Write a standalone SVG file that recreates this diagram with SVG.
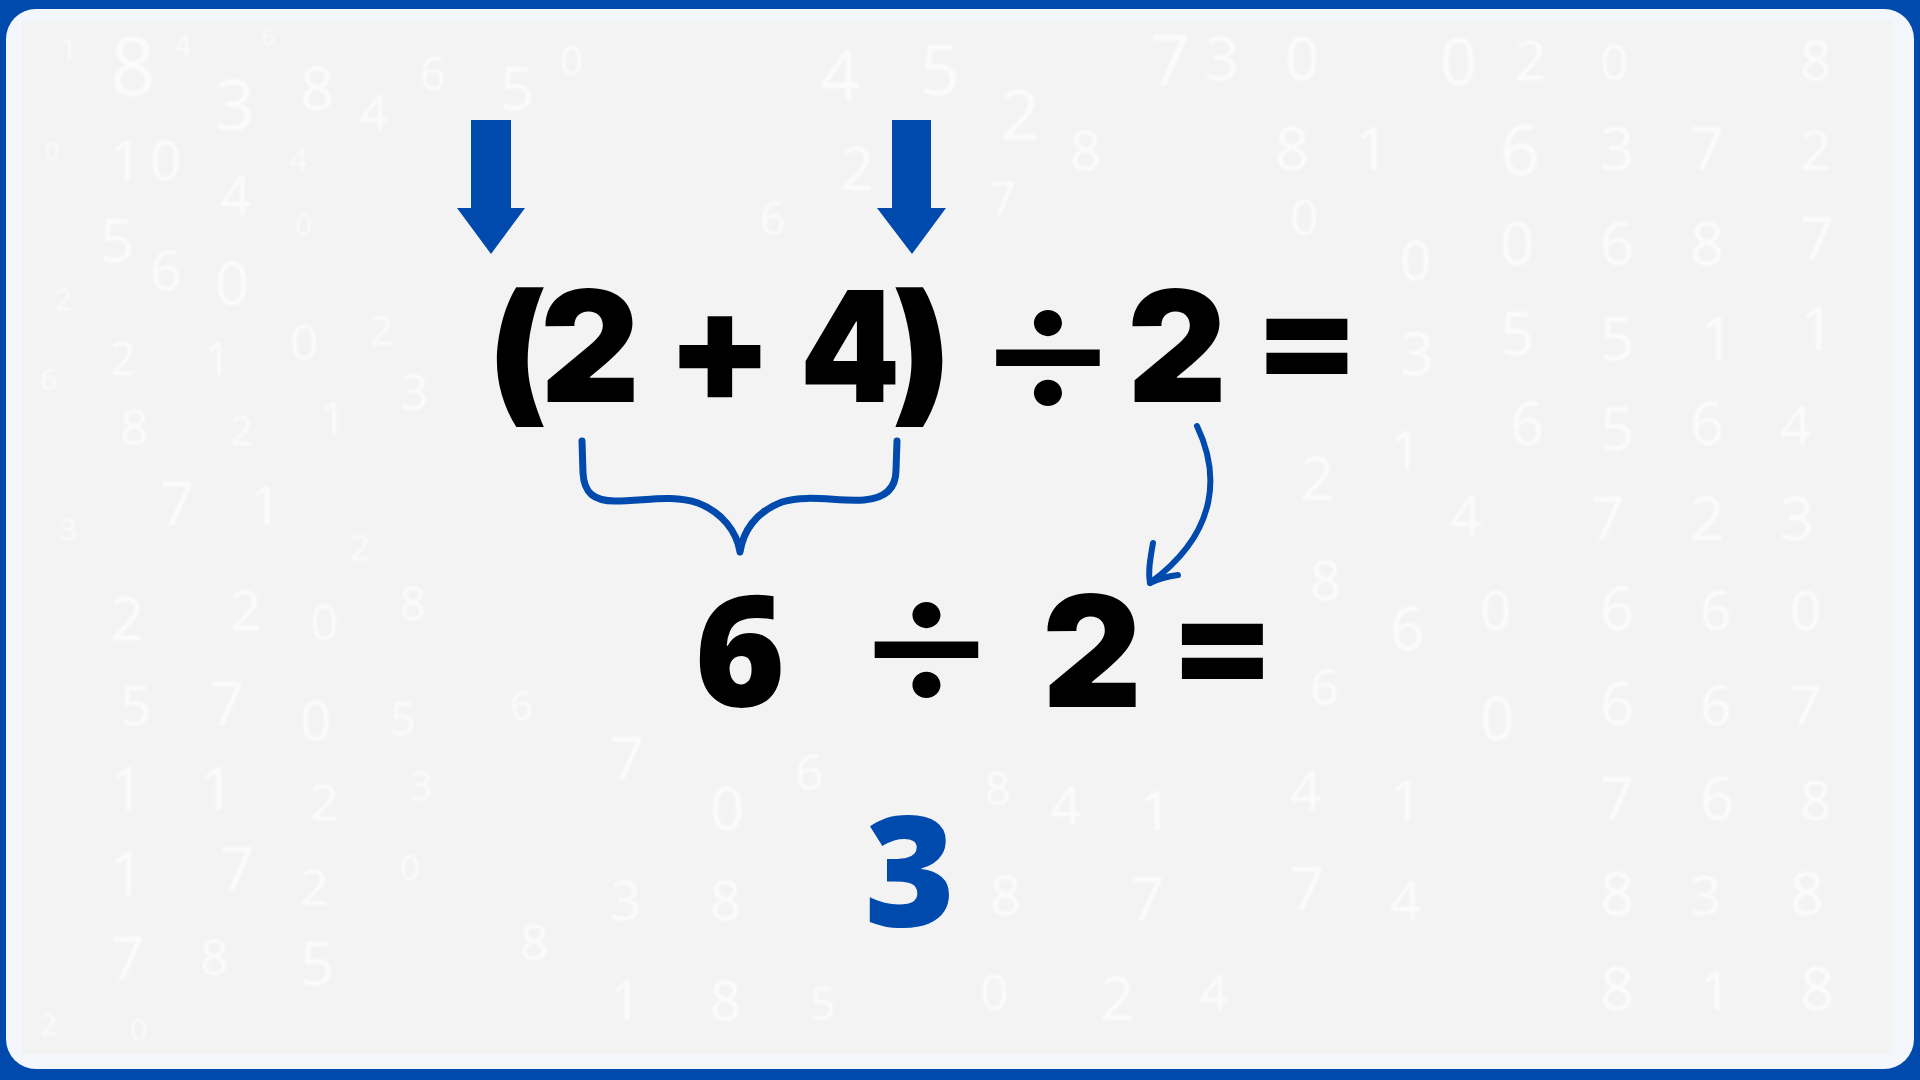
<svg xmlns="http://www.w3.org/2000/svg" width="1920" height="1080" viewBox="0 0 1920 1080">
<defs>
<style>
.bg{font-family:"Open Sans","Liberation Sans",sans-serif;font-weight:400;fill:#ffffff;fill-opacity:0.7}
.eq{font-family:Inter,"Liberation Sans",sans-serif;font-weight:900;font-size:154px;fill:#000000;text-anchor:middle}
.div{font-family:"Noto Sans CJK SC","Noto Sans",sans-serif;font-weight:900;fill:#000000;text-anchor:middle}
.os{font-family:"Open Sans","Liberation Sans",sans-serif;font-weight:800;font-size:155px;text-anchor:middle}
.blue{fill:#004AAD}
.stroke{fill:none;stroke:#004AAD;stroke-linecap:round;stroke-linejoin:round}
</style>
<clipPath id="inner"><rect x="22" y="21" width="1870" height="1033"/></clipPath>
<filter id="soft" x="-5%" y="-5%" width="110%" height="110%"><feGaussianBlur stdDeviation="0.8"/></filter>
</defs>
<rect x="0" y="0" width="1920" height="1080" fill="#004AAD"/>
<rect x="6" y="9" width="1908" height="1060" rx="30" ry="30" fill="#F3F6FB"/>
<rect x="22" y="21" width="1870" height="1033" fill="#F3F3F3"/>
<g id="background-digits" clip-path="url(#inner)" filter="url(#soft)">
<text class="bg" x="60" y="60" font-size="30">1</text>
<text class="bg" x="110" y="95" font-size="80">8</text>
<text class="bg" x="175" y="55" font-size="28">4</text>
<text class="bg" x="215" y="130" font-size="70">3</text>
<text class="bg" x="262" y="45" font-size="22">6</text>
<text class="bg" x="300" y="110" font-size="60">8</text>
<text class="bg" x="360" y="130" font-size="50">4</text>
<text class="bg" x="420" y="90" font-size="45">6</text>
<text class="bg" x="500" y="110" font-size="60">5</text>
<text class="bg" x="560" y="75" font-size="40">0</text>
<text class="bg" x="45" y="160" font-size="25">0</text>
<text class="bg" x="110" y="180" font-size="55">1</text>
<text class="bg" x="150" y="180" font-size="55">0</text>
<text class="bg" x="220" y="215" font-size="55">4</text>
<text class="bg" x="290" y="170" font-size="30">4</text>
<text class="bg" x="100" y="262" font-size="60">5</text>
<text class="bg" x="150" y="290" font-size="55">6</text>
<text class="bg" x="215" y="305" font-size="60">0</text>
<text class="bg" x="295" y="235" font-size="30">0</text>
<text class="bg" x="55" y="310" font-size="30">2</text>
<text class="bg" x="110" y="375" font-size="45">2</text>
<text class="bg" x="205" y="375" font-size="45">1</text>
<text class="bg" x="290" y="360" font-size="50">0</text>
<text class="bg" x="370" y="345" font-size="40">2</text>
<text class="bg" x="40" y="390" font-size="30">6</text>
<text class="bg" x="120" y="445" font-size="50">8</text>
<text class="bg" x="230" y="445" font-size="40">2</text>
<text class="bg" x="320" y="435" font-size="45">1</text>
<text class="bg" x="400" y="410" font-size="50">3</text>
<text class="bg" x="160" y="525" font-size="60">7</text>
<text class="bg" x="60" y="540" font-size="30">3</text>
<text class="bg" x="250" y="525" font-size="55">1</text>
<text class="bg" x="350" y="560" font-size="35">2</text>
<text class="bg" x="110" y="640" font-size="60">2</text>
<text class="bg" x="230" y="630" font-size="55">2</text>
<text class="bg" x="310" y="640" font-size="50">0</text>
<text class="bg" x="400" y="620" font-size="45">8</text>
<text class="bg" x="120" y="725" font-size="55">5</text>
<text class="bg" x="210" y="725" font-size="60">7</text>
<text class="bg" x="300" y="740" font-size="55">0</text>
<text class="bg" x="390" y="735" font-size="45">5</text>
<text class="bg" x="510" y="720" font-size="40">6</text>
<text class="bg" x="110" y="810" font-size="60">1</text>
<text class="bg" x="200" y="810" font-size="60">1</text>
<text class="bg" x="310" y="820" font-size="50">2</text>
<text class="bg" x="410" y="800" font-size="40">3</text>
<text class="bg" x="110" y="895" font-size="60">1</text>
<text class="bg" x="220" y="890" font-size="60">7</text>
<text class="bg" x="300" y="905" font-size="50">2</text>
<text class="bg" x="400" y="880" font-size="35">0</text>
<text class="bg" x="110" y="980" font-size="60">7</text>
<text class="bg" x="200" y="975" font-size="50">8</text>
<text class="bg" x="300" y="985" font-size="60">5</text>
<text class="bg" x="40" y="1035" font-size="30">2</text>
<text class="bg" x="130" y="1040" font-size="30">0</text>
<text class="bg" x="610" y="780" font-size="60">7</text>
<text class="bg" x="710" y="830" font-size="60">0</text>
<text class="bg" x="795" y="790" font-size="50">6</text>
<text class="bg" x="985" y="805" font-size="45">8</text>
<text class="bg" x="610" y="920" font-size="55">3</text>
<text class="bg" x="710" y="920" font-size="55">8</text>
<text class="bg" x="520" y="960" font-size="50">8</text>
<text class="bg" x="610" y="1020" font-size="55">1</text>
<text class="bg" x="710" y="1020" font-size="55">8</text>
<text class="bg" x="810" y="1020" font-size="45">5</text>
<text class="bg" x="980" y="1010" font-size="50">0</text>
<text class="bg" x="820" y="100" font-size="70">4</text>
<text class="bg" x="920" y="95" font-size="70">5</text>
<text class="bg" x="1000" y="140" font-size="70">2</text>
<text class="bg" x="1070" y="170" font-size="55">8</text>
<text class="bg" x="840" y="190" font-size="60">2</text>
<text class="bg" x="760" y="235" font-size="45">6</text>
<text class="bg" x="990" y="215" font-size="45">7</text>
<text class="bg" x="1150" y="85" font-size="70">7</text>
<text class="bg" x="1205" y="80" font-size="60">3</text>
<text class="bg" x="1285" y="80" font-size="60">0</text>
<text class="bg" x="1440" y="85" font-size="65">0</text>
<text class="bg" x="1515" y="80" font-size="55">2</text>
<text class="bg" x="1600" y="80" font-size="50">0</text>
<text class="bg" x="1800" y="80" font-size="55">8</text>
<text class="bg" x="1275" y="170" font-size="60">8</text>
<text class="bg" x="1355" y="170" font-size="60">1</text>
<text class="bg" x="1500" y="175" font-size="70">6</text>
<text class="bg" x="1600" y="170" font-size="60">3</text>
<text class="bg" x="1690" y="170" font-size="60">7</text>
<text class="bg" x="1800" y="170" font-size="55">2</text>
<text class="bg" x="1290" y="235" font-size="50">0</text>
<text class="bg" x="1400" y="280" font-size="55">0</text>
<text class="bg" x="1500" y="265" font-size="60">0</text>
<text class="bg" x="1600" y="265" font-size="60">6</text>
<text class="bg" x="1690" y="265" font-size="60">8</text>
<text class="bg" x="1800" y="260" font-size="60">7</text>
<text class="bg" x="1500" y="355" font-size="60">5</text>
<text class="bg" x="1400" y="375" font-size="60">3</text>
<text class="bg" x="1600" y="360" font-size="60">5</text>
<text class="bg" x="1700" y="360" font-size="60">1</text>
<text class="bg" x="1800" y="350" font-size="60">1</text>
<text class="bg" x="1510" y="445" font-size="60">6</text>
<text class="bg" x="1300" y="500" font-size="60">2</text>
<text class="bg" x="1390" y="470" font-size="55">1</text>
<text class="bg" x="1600" y="450" font-size="60">5</text>
<text class="bg" x="1690" y="445" font-size="60">6</text>
<text class="bg" x="1780" y="445" font-size="55">4</text>
<text class="bg" x="1450" y="535" font-size="55">4</text>
<text class="bg" x="1310" y="600" font-size="55">8</text>
<text class="bg" x="1590" y="540" font-size="60">7</text>
<text class="bg" x="1690" y="540" font-size="60">2</text>
<text class="bg" x="1780" y="540" font-size="60">3</text>
<text class="bg" x="1390" y="650" font-size="60">6</text>
<text class="bg" x="1480" y="630" font-size="55">0</text>
<text class="bg" x="1600" y="630" font-size="60">6</text>
<text class="bg" x="1700" y="630" font-size="55">6</text>
<text class="bg" x="1790" y="630" font-size="55">0</text>
<text class="bg" x="1310" y="705" font-size="50">6</text>
<text class="bg" x="1480" y="740" font-size="60">0</text>
<text class="bg" x="1600" y="725" font-size="60">6</text>
<text class="bg" x="1700" y="725" font-size="55">6</text>
<text class="bg" x="1790" y="725" font-size="55">7</text>
<text class="bg" x="1290" y="810" font-size="55">4</text>
<text class="bg" x="1390" y="820" font-size="55">1</text>
<text class="bg" x="1600" y="820" font-size="60">7</text>
<text class="bg" x="1700" y="820" font-size="60">6</text>
<text class="bg" x="1800" y="820" font-size="55">8</text>
<text class="bg" x="1290" y="910" font-size="60">7</text>
<text class="bg" x="1390" y="920" font-size="55">4</text>
<text class="bg" x="1600" y="915" font-size="60">8</text>
<text class="bg" x="1690" y="915" font-size="55">3</text>
<text class="bg" x="1790" y="915" font-size="60">8</text>
<text class="bg" x="1100" y="1020" font-size="60">2</text>
<text class="bg" x="1200" y="1010" font-size="50">4</text>
<text class="bg" x="1600" y="1010" font-size="60">8</text>
<text class="bg" x="1700" y="1010" font-size="55">1</text>
<text class="bg" x="1800" y="1010" font-size="60">8</text>
<text class="bg" x="1050" y="825" font-size="55">4</text>
<text class="bg" x="1130" y="920" font-size="60">7</text>
<text class="bg" x="1140" y="830" font-size="55">1</text>
<text class="bg" x="990" y="915" font-size="55">8</text>
</g>
<g id="arrow-left"><polygon class="blue" points="471,120 511,120 511,208 525,208 491,254 457,208 471,208"/></g>
<g id="arrow-right"><polygon class="blue" points="892,120 931,120 931,208 946,208 912,254 877,208 892,208"/></g>
<g id="expression-1">
<text class="eq" x="517" y="406">(</text>
<text class="eq" x="590" y="402">2</text>
<text class="eq" x="720" y="402">+</text>
<text class="eq" transform="translate(850,402) scale(0.93,1)" x="0" y="0">4</text>
<text class="eq" x="922" y="406">)</text>
<text class="div" transform="translate(1048,410) scale(1,0.93)" x="0" y="0" font-size="148">÷</text>
<text class="eq" x="1177" y="402">2</text>
<text class="eq" transform="translate(1307,386) scale(1,0.87)" x="0" y="0">=</text>
</g>
<g id="expression-2">
<text class="os" x="740" y="706" fill="#000000">6</text>
<text class="div" transform="translate(926.5,702) scale(1,0.93)" x="0" y="0" font-size="148">÷</text>
<text class="eq" x="1092" y="707">2</text>
<text class="eq" transform="translate(1222.5,691) scale(1,0.87)" x="0" y="0">=</text>
</g>
<g id="result"><text class="os blue" x="910" y="926">3</text></g>
<g id="connectors">
<path class="stroke" stroke-width="7" d="M582,441 L583,473 C584,493 594,501 615,501 C645,501 672,494 698,503 C722,512 737,532 740,552 C743,532 755,512 782,502 C808,494 838,502 864,500 C888,498 896,486 896,470 L897,441"/>
<path class="stroke" stroke-width="6" d="M1197,426 C1218,470 1222,530 1150,583"/>
<path class="stroke" stroke-width="6" d="M1153,543 C1150,560 1148,572 1150,583 C1160,578 1170,576 1178,575"/>
</g>
</svg>
